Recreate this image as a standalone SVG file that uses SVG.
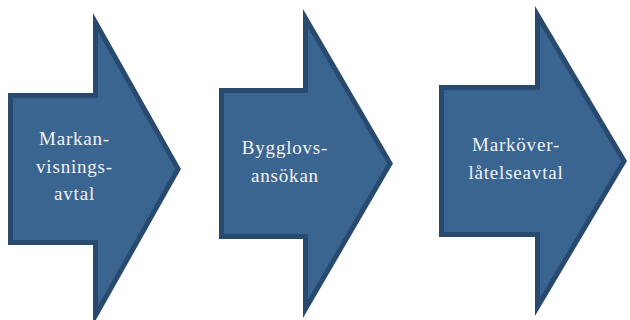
<svg xmlns="http://www.w3.org/2000/svg" width="630" height="320" viewBox="0 0 630 320">
<style>
.arrow{fill:#3b6591;stroke:#284a6f;stroke-width:5;stroke-linejoin:miter;stroke-miterlimit:10}
.lbl{font-family:"Liberation Serif","Times New Roman",serif;font-size:19px;letter-spacing:0.8px;fill:#f2f2f2;text-anchor:middle}
</style>
<rect width="630" height="320" fill="#ffffff"/>
<g id="connectors"></g>
<g id="node1">
<path class="arrow" d="M10.5,95.5 L95.5,95.5 L95.5,22.5 L178.1,169 L95.5,315.5 L95.5,242.5 L10.5,242.5 Z"/>
<text class="lbl" x="74.5" y="145">Markan-</text>
<text class="lbl" x="74.5" y="172.5">visnings-</text>
<text class="lbl" x="74.5" y="200">avtal</text>
</g>
<g id="node2">
<path class="arrow" d="M221.5,90.5 L305.5,90.5 L305.5,18.3 L390.1,163.5 L305.5,308.7 L305.5,236.5 L221.5,236.5 Z"/>
<text class="lbl" x="285" y="154">Bygglovs-</text>
<text class="lbl" x="285" y="181.5">ansökan</text>
</g>
<g id="node3">
<path class="arrow" d="M441.5,87.5 L537.5,87.5 L537.5,15.1 L624.1,161 L537.5,306.9 L537.5,234.5 L441.5,234.5 Z"/>
<text class="lbl" x="516" y="151">Marköver-</text>
<text class="lbl" x="516" y="178.5">låtelseavtal</text>
</g>
</svg>
